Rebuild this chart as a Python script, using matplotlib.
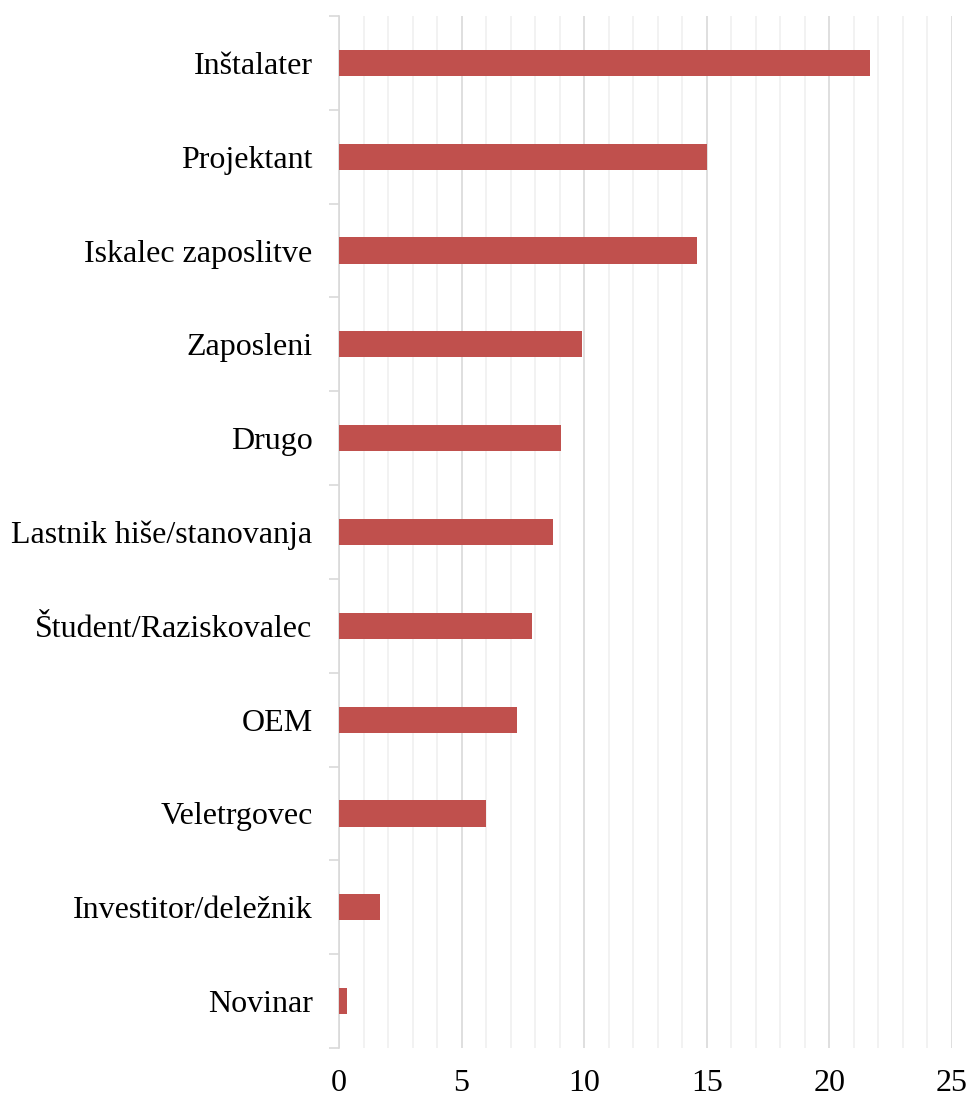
import matplotlib
matplotlib.use('Agg')
import matplotlib.pyplot as plt
import numpy as np

# categories listed top to bottom
categories = ['Inštalater', 'Projektant', 'Iskalec zaposlitve', 'Zaposleni', 'Drugo',
              'Lastnik hiše/stanovanja', 'Študent/Raziskovalec', 'OEM', 'Veletrgovec',
              'Investitor/deležnik', 'Novinar']
values = [21.65, 15.0, 14.6, 9.9, 9.05, 8.72, 7.87, 7.26, 6.0, 1.67, 0.34]
x_ticks = [0, 5, 10, 15, 20, 25]

plt.rcParams['font.family'] = ['Liberation Serif', 'DejaVu Serif']

fig = plt.figure(figsize=(9.71, 10.99), dpi=100)
ax = fig.add_axes([339/971, 1-1048/1099, (952-339)/971, (1048-16)/1099])

n = len(categories)
ypos = np.arange(n)[::-1]
ax.barh(ypos, values, height=0.28, color='#C0504D', zorder=3)

ax.set_xlim(0, 25)
ax.set_ylim(-0.5, n-0.5)

ax.set_xticks(x_ticks)
ax.set_xticklabels([str(t) for t in x_ticks], fontsize=23)
ax.set_xticks(np.arange(0, 26, 1), minor=True)
ax.tick_params(axis='x', which='both', length=0, pad=15)

ax.set_yticks(ypos)
ax.set_yticklabels(categories, fontsize=23)
ax.set_yticks(np.arange(-0.5, n, 1), minor=True)
ax.tick_params(axis='y', which='major', length=0, pad=19)
ax.tick_params(axis='y', which='minor', length=7, width=1.2, color='#d9d9d9')

ax.grid(axis='x', which='major', color='#d9d9d9', linewidth=1.2, zorder=0)
ax.grid(axis='x', which='minor', color='#f0f0f0', linewidth=1.2, zorder=0)
ax.set_axisbelow(True)

for s in ['top', 'right', 'bottom']:
    ax.spines[s].set_visible(False)
ax.spines['left'].set_color('#d9d9d9')
ax.spines['left'].set_linewidth(1.2)

fig.savefig('out.png', dpi=100)
